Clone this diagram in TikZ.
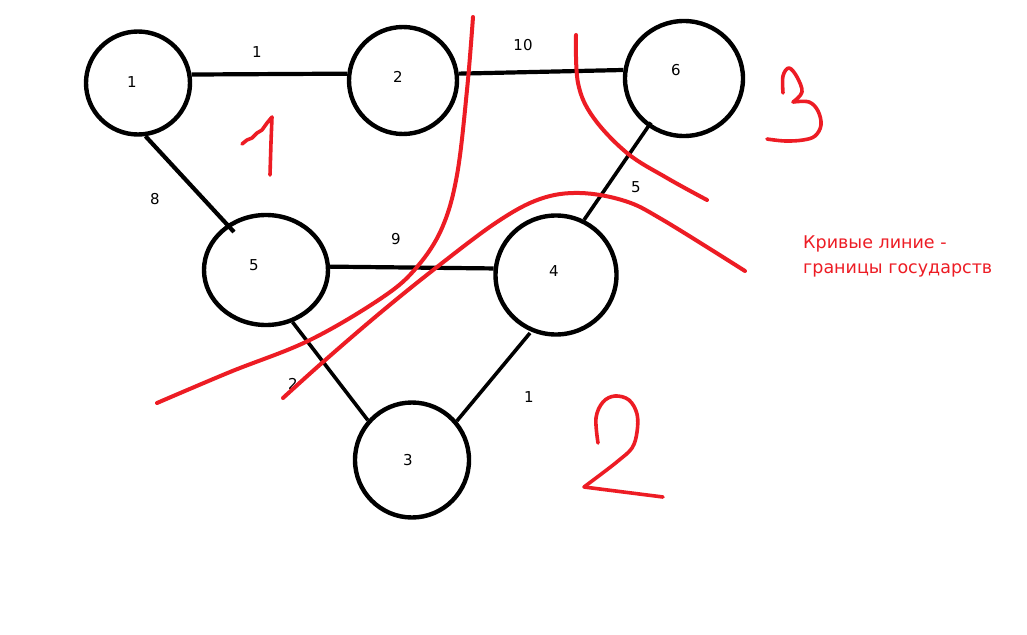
\documentclass[tikz,border=0pt]{standalone}
\usepackage{fontspec}
\setmainfont{DejaVu Sans}
\usetikzlibrary{shapes.geometric,calc}
\definecolor{paintred}{RGB}{237,28,36}
\tikzset{
  vertex/.style={ellipse, draw=black, line width=4.4pt, inner sep=0pt, fill=none},
  vlabel/.style={font=\fontsize{15}{17}\selectfont, inner sep=0pt},
  wlabel/.style={font=\fontsize{15}{17}\selectfont, inner sep=0pt},
  edge/.style={draw=black, line width=4.2pt},
  thinedge/.style={draw=black, line width=3.6pt},
  border/.style={draw=paintred, line width=4pt, line cap=round, line join=round},
  digit/.style={draw=paintred, line width=3.6pt, line cap=round, line join=round},
}
\begin{document}
\begin{tikzpicture}[x=1pt, y=-1pt]
  % canvas
  \fill[white] (0,0) rectangle (1027,634);
  \path[use as bounding box] (0,0) rectangle (1027,634);

  % vertices
  \node[vertex, minimum width=104pt, minimum height=103pt,
        label={[vlabel, shift={(-6pt,1pt)}]center:1}] (n1) at (138,83) {};
  \node[vertex, minimum width=108pt, minimum height=107pt,
        label={[vlabel, shift={(-5pt,4pt)}]center:2}] (n2) at (403,80.5) {};
  \node[vertex, minimum width=118pt, minimum height=115pt,
        label={[vlabel, shift={(-8pt,8pt)}]center:6}] (n6) at (684,78.5) {};
  \node[vertex, minimum width=124pt, minimum height=110pt,
        label={[vlabel, shift={(-12pt,5pt)}]center:5}] (n5) at (266,270) {};
  \node[vertex, minimum width=121pt, minimum height=119pt,
        label={[vlabel, shift={(-2pt,4pt)}]center:4}] (n4) at (556,275) {};
  \node[vertex, minimum width=114pt, minimum height=115pt,
        label={[vlabel, shift={(-4pt,0pt)}]center:3}] (n3) at (412,460) {};

  % edges
  \draw[edge] (n1.9) -- (n2.173);
  \draw[edge] (n2.7) -- (n6.172);
  \draw[edge] (n1.-82) -- ($(n5.center)+(-32,-38)$);
  \draw[edge] (n5.3) -- (n4.174);
  \draw[thinedge] (n5.-63) -- (n3.138);
  \draw[thinedge] ($(n4.center)+(-26,58)$) -- (n3.41);
  \draw[thinedge] ($(n6.center)+(-33,44)$) -- (n4.63);

  % edge weights
  \node[wlabel] (w12) at (257,52) {1};
  \node[wlabel] (w26) at (523,45) {10};
  \node[wlabel] (w15) at (155,199) {8};
  \node[wlabel] (w54) at (396,239) {9};
  \node[wlabel] (w64) at (636,187) {5};
  \node[wlabel] (w53) at (293,384) {2};
  \node[wlabel] (w43) at (529,397) {1};

  % borders between regions
  \draw[border] plot[smooth, tension=0.6] coordinates
    {(473,17) (467,90) (457,175) (442,228) (417,267) (383,297) (310,340) (230,372) (157,403)};
  \draw[border] plot[smooth, tension=0.6] coordinates
    {(283,398) (323,362) (380,313) (437,267) (497,222) (540,199) (580,193) (625,201) (663,220) (745,271)};
  \draw[border] plot[smooth, tension=0.6] coordinates
    {(576,35) (578,83) (593,117) (627,153) (667,178) (707,200)};

  % region numbers
  \draw[digit] (242,144) -- (247,140) -- (252,138) -- (257,133) -- (262,130) -- (267,123) -- (272,117)
               -- (271,142) -- (270,175);
  \draw[digit] plot[smooth, tension=0.6] coordinates
    {(783,93) (783,76) (789,68) (797,77) (802,92) (793,102)};
  \draw[digit] plot[smooth, tension=0.6] coordinates
    {(793,102) (809,102) (818,111) (821,125) (815,136) (803,140) (785,141) (767,139)};
  \draw[digit] plot[smooth, tension=0.6] coordinates
    {(598,443) (596,418) (603,402) (615,396) (629,400) (637,414) (637,432) (632,448) (618,461) (600,475) (584,487)};
  \draw[digit] (584,487) -- (663,497);

  % caption
  \node[text=paintred, font=\fontsize{17.5}{25}\selectfont, align=left, anchor=base west, inner sep=0pt]
    (caption) at (803,273) {Кривые линие -\\границы государств};
\end{tikzpicture}
\end{document}
